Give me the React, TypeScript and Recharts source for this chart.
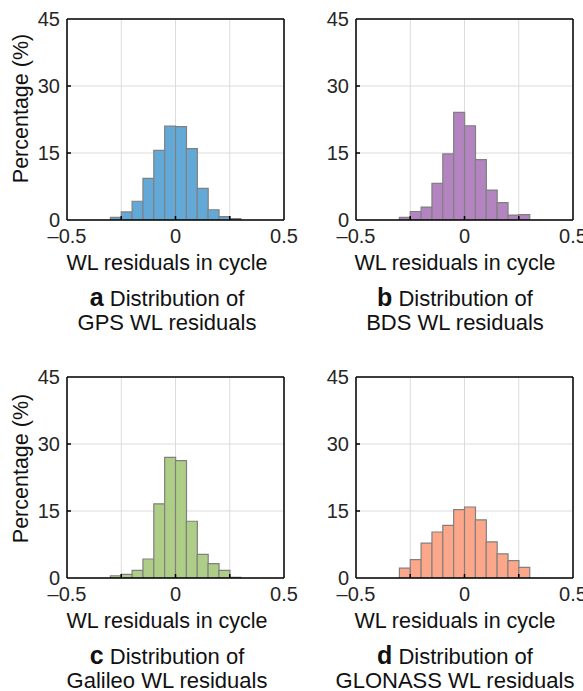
import React from "react";
import {
  BarChart,
  Bar,
  XAxis,
  YAxis,
  CartesianGrid,
  ReferenceLine,
} from "recharts";

// Histogram bin centers (bin width 0.05 cycle)
const BINS = [
  -0.475, -0.425, -0.375, -0.325, -0.275, -0.225, -0.175, -0.125, -0.075, -0.025,
  0.025, 0.075, 0.125, 0.175, 0.225, 0.275, 0.325, 0.375, 0.425, 0.475,
];

const GPS = [0, 0, 0, 0, 0.6, 1.8, 4.2, 9.3, 15.6, 21.0, 20.9, 16.0, 7.1, 2.3, 0.75, 0.3, 0, 0, 0, 0];
const BDS = [0, 0, 0, 0, 0.6, 1.9, 2.9, 8.2, 14.8, 24.1, 21.1, 13.5, 6.7, 3.9, 1.1, 1.2, 0, 0, 0, 0];
const GALILEO = [0, 0, 0, 0, 0.5, 0.8, 1.7, 4.25, 16.6, 27.0, 26.3, 12.7, 5.3, 3.2, 1.7, 0.15, 0, 0, 0, 0];
const GLONASS = [0, 0, 0, 0, 2.2, 4.1, 7.8, 10.3, 11.8, 15.3, 15.9, 13.0, 8.1, 5.4, 3.9, 2.4, 0, 0, 0, 0];

const X_TICKS = [-0.5, -0.25, 0, 0.25, 0.5];
const X_LABELED = [-0.5, 0, 0.5];
const Y_TICKS = [0, 15, 30, 45];
const X_EDGES = [-0.5, 0.5];
const Y_EDGES = [0, 45];

const FONT = "'Liberation Sans', Arial, Helvetica, sans-serif";

const fmtX = (v: number) => (v < 0 ? "\u2013" + Math.abs(v) : String(v));

const renderXTick = (props: any) => {
  const { x, y, payload } = props;
  const v = payload.value;
  const inner = v > -0.5 && v < 0.5;
  return (
    <g key={"xt" + v}>
      {inner && <line x1={x} x2={x} y1={y} y2={y - 4} stroke="#000" strokeWidth={1.5} />}
      {X_LABELED.includes(v) && (
        <text x={x} y={y + 16} dy="0.36em" textAnchor="middle" fontSize={20} fill="#262626" fontFamily={FONT}>
          {fmtX(v)}
        </text>
      )}
    </g>
  );
};

const renderYTick = (props: any) => {
  const { x, y, payload } = props;
  const v = payload.value;
  const inner = v > 0 && v < 45;
  return (
    <g key={"yt" + v}>
      {inner && <line x1={x} x2={x + 4} y1={y} y2={y} stroke="#000" strokeWidth={1.5} />}
      <text x={x - 7} y={y} dy="0.36em" textAnchor="end" fontSize={20} fill="#262626" fontFamily={FONT}>
        {v}
      </text>
    </g>
  );
};

type PanelProps = {
  values: number[];
  color: string;
  left: number;
  top: number;
  width: number;
  height: number;
  margin: { top: number; right: number; bottom: number; left: number };
  yw: number;
};

const Panel = ({ values, color, left, top, width, height, margin, yw }: PanelProps) => {
  const data = BINS.map((b, i) => ({ bin: b, pct: values[i] }));
  return (
    <div style={{ position: "absolute", left, top }}>
      <BarChart width={width} height={height} data={data} margin={margin} barCategoryGap={0} barGap={0}>
        <XAxis xAxisId="num"
          dataKey="bin"
          type="number"
          domain={[-0.5, 0.5]}
          ticks={X_TICKS}
          allowDataOverflow
          height={30}
          axisLine={false}
          tickLine={false}
          tickSize={0}
          tickMargin={0}
          tick={renderXTick}
          interval={0}
        />
        <XAxis xAxisId="cat" dataKey="bin" type="category" hide height={0} />
        <YAxis
          type="number"
          domain={[0, 45]}
          ticks={Y_TICKS}
          width={yw}
          axisLine={false}
          tickLine={false}
          tickSize={0}
          tickMargin={0}
          tick={renderYTick}
          interval={0}
          allowDataOverflow
        />
        <CartesianGrid xAxisId="num" stroke="#dcdcdc" strokeWidth={1} />
        <Bar
          xAxisId="cat"
          dataKey="pct"
          fill={color}
          stroke="#808080"
          strokeWidth={1.2}
          isAnimationActive={false}
        />
        {X_EDGES.map((xv) => (
          <ReferenceLine key={"vx" + xv} xAxisId="num" x={xv} stroke="#000" strokeWidth={1.5} ifOverflow="visible" />
        ))}
        {Y_EDGES.map((yv) => (
          <ReferenceLine key={"hy" + yv} xAxisId="num" y={yv} stroke="#000" strokeWidth={1.5} ifOverflow="visible" />
        ))}
      </BarChart>
    </div>
  );
};

const Centered = ({ cx, cy, children, size = 21.5 }: any) => (
  <div
    style={{
      position: "absolute",
      left: cx - 150,
      top: cy - 12.5,
      width: 300,
      height: 25,
      lineHeight: "25px",
      textAlign: "center",
      fontSize: size,
      color: "#111",
      whiteSpace: "nowrap",
    }}
  >
    {children}
  </div>
);

const YLabel = ({ cx, cy }: any) => (
  <div
    style={{
      position: "absolute",
      left: cx - 100,
      top: cy - 12.5,
      width: 200,
      height: 25,
      lineHeight: "25px",
      textAlign: "center",
      fontSize: 21.5,
      color: "#111",
      transform: "rotate(-90deg)",
      whiteSpace: "nowrap",
    }}
  >
    Percentage (%)
  </div>
);

const Caption = ({ cx, cy, letter, line1, line2 }: any) => (
  <>
    <Centered cx={cx} cy={cy} size={22}>
      <b style={{ fontSize: 25 }}>{letter}</b> {line1}
    </Centered>
    <Centered cx={cx} cy={cy + 25} size={22}>
      {line2}
    </Centered>
  </>
);

export default function App() {
  const topMargin = { top: 19, right: 26, bottom: 0, left: 0 };
  const topMarginR = { top: 19, right: 10, bottom: 0, left: 0 };
  const botMargin = { top: 17, right: 26, bottom: 2, left: 0 };
  const botMarginR = { top: 17, right: 10, bottom: 2, left: 0 };
  return (
    <div
      style={{
        position: "absolute",
        left: 0,
        top: 0,
        width: 583,
        height: 691,
        background: "#fff",
        fontFamily: FONT,
        overflow: "hidden",
      }}
    >
      <Panel values={GPS} color="#62a9d8" left={0} top={0} width={310} height={250} margin={topMargin} yw={67} />
      <Panel values={BDS} color="#b384bf" left={291} top={0} width={292} height={250} margin={topMarginR} yw={65} />
      <Panel values={GALILEO} color="#aecd86" left={0} top={360} width={310} height={250} margin={botMargin} yw={67} />
      <Panel values={GLONASS} color="#fca789" left={291} top={360} width={292} height={250} margin={botMarginR} yw={65} />

      <YLabel cx={21} cy={108} />
      <YLabel cx={21} cy={468} />

      <Centered cx={167} cy={263}>WL residuals in cycle</Centered>
      <Centered cx={455} cy={263}>WL residuals in cycle</Centered>
      <Centered cx={167} cy={621}>WL residuals in cycle</Centered>
      <Centered cx={455} cy={621}>WL residuals in cycle</Centered>

      <Caption cx={167} cy={297} letter="a" line1="Distribution of" line2="GPS WL residuals" />
      <Caption cx={455} cy={297} letter="b" line1="Distribution of" line2="BDS WL residuals" />
      <Caption cx={167} cy={655} letter="c" line1="Distribution of" line2="Galileo WL residuals" />
      <Caption cx={455} cy={655} letter="d" line1="Distribution of" line2="GLONASS WL residuals" />
    </div>
  );
}
